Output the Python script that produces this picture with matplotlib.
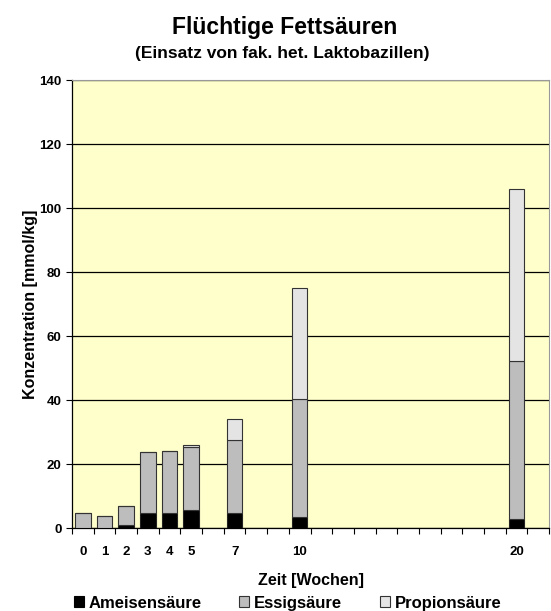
import numpy as np
import matplotlib.pyplot as plt
from matplotlib.patches import Patch

plt.rcParams['font.family'] = ['Liberation Sans', 'DejaVu Sans']
plt.rcParams['font.weight'] = 'bold'

# data (mmol/kg), weeks on a category axis 0..21
wochen = [0, 1, 2, 3, 4, 5, 7, 10, 20]
ameise = [0.0, 0.0, 1.0, 4.8, 4.8, 5.5, 4.8, 3.4, 2.7]
essig = [4.8, 3.7, 5.8, 19.0, 19.3, 19.8, 22.6, 36.9, 49.6]
propion = [0.0, 0.0, 0.0, 0.0, 0.0, 0.5, 6.6, 34.8, 53.8]
n_slots = 22

fig = plt.figure(figsize=(5.51, 6.11), dpi=100)
ax = fig.add_axes([0.1307, 0.1358, 0.8657, 0.7332])
ax.set_facecolor('#FFFFCC')

x = np.array(wochen)
a = np.array(ameise)
e = np.array(essig)
p = np.array(propion)
w = 0.72
ax.bar(x, a, w, color='black', edgecolor='#222222', linewidth=0.8, zorder=3)
ax.bar(x, e, w, bottom=a, color='#BDBDBD', edgecolor='#333333', linewidth=0.8, zorder=3)
ax.bar(x, p, w, bottom=a + e, color='#E4E4E4', edgecolor='#333333', linewidth=0.8, zorder=3)

ax.set_xlim(-0.5, n_slots - 0.5)
ax.set_ylim(0, 140)
ax.set_yticks(range(0, 141, 20))
ax.yaxis.grid(True, color='black', linewidth=0.9)
ax.set_axisbelow(True)

ax.set_xticks(x)
ax.set_xticklabels([str(v) for v in wochen])
ax.set_xticks(np.arange(-0.5, n_slots, 1), minor=True)
ax.tick_params(axis='x', which='minor', length=4, direction='out', width=0.8)
ax.tick_params(axis='x', which='major', length=0, pad=13, labelsize=9.5)
ax.tick_params(axis='y', length=4, width=0.8, labelsize=9.5)

for s in ['top', 'right']:
    ax.spines[s].set_color('#999999')
ax.spines['left'].set_linewidth(0.9)
ax.spines['bottom'].set_linewidth(0.9)

ax.set_ylabel('Konzentration [mmol/kg]', fontsize=11.5, fontweight='bold', labelpad=1)
ax.set_xlabel('Zeit [Wochen]', fontsize=11.5, fontweight='bold', labelpad=11)

fig.text(0.517, 0.955, 'Flüchtige Fettsäuren', ha='center', va='center',
         fontsize=16.5, fontweight='bold')
fig.text(0.512, 0.913, '(Einsatz von fak. het. Laktobazillen)', ha='center', va='center',
         fontsize=12.5, fontweight='bold')

handles = [Patch(facecolor='black', edgecolor='black', linewidth=0.8),
           Patch(facecolor='#BDBDBD', edgecolor='#333333', linewidth=0.8),
           Patch(facecolor='#E4E4E4', edgecolor='#333333', linewidth=0.8)]
fig.legend(handles, ['Ameisensäure', 'Essigsäure', 'Propionsäure'],
           loc='center', bbox_to_anchor=(0.522, 0.013), ncol=3, frameon=False,
           handlelength=0.6, handleheight=0.6, handletextpad=0.3,
           columnspacing=2.25, prop={'weight': 'bold', 'size': 12})

fig.savefig('out.png', dpi=100)
